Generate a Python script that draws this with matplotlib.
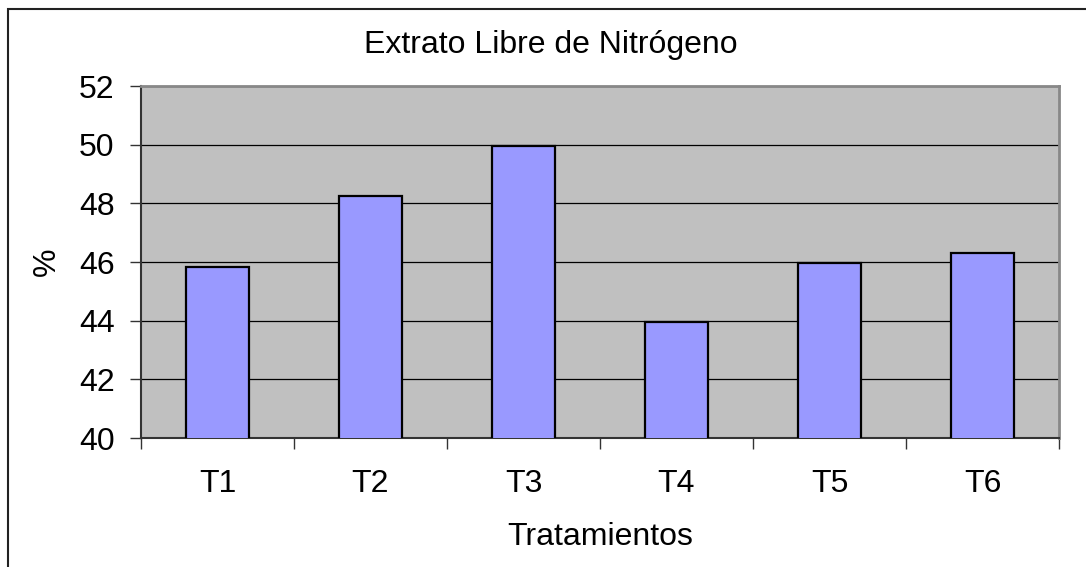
import matplotlib
matplotlib.use("Agg")
import matplotlib.pyplot as plt
from matplotlib.patches import Rectangle

plt.rcParams['font.family'] = ['Liberation Sans', 'DejaVu Sans']

tratamientos = ['T1', 'T2', 'T3', 'T4', 'T5', 'T6']
valores = [45.82, 48.25, 49.97, 43.94, 45.95, 46.31]
y_ticks = [40, 42, 44, 46, 48, 50, 52]

W, H = 1086, 567
FS = 23
fig = plt.figure(figsize=(W / 100, H / 100), dpi=100)
fig.patch.set_facecolor('white')

# outer chart border (cut off at right/bottom like the original)
fig.patches.append(Rectangle((8 / W, -0.1), 1.2, 1 - 9 / H + 0.1, transform=fig.transFigure,
                             fill=False, edgecolor='#222222', linewidth=1.5))

ax = fig.add_axes([141 / W, 1 - 438 / H, (1059 - 141) / W, (438 - 86) / H])
ax.set_facecolor('#C0C0C0')

x = list(range(len(tratamientos)))
ax.bar(x, valores, width=0.41, color='#9999FF', edgecolor='black', linewidth=1.6, zorder=3)

ax.set_xlim(-0.5, len(tratamientos) - 0.5)
ax.set_ylim(40, 52)
ax.set_yticks(y_ticks)
ax.set_yticklabels([str(v) for v in y_ticks], fontsize=FS)
ax.yaxis.grid(True, color='black', linewidth=0.9, zorder=1)

# labels at centers, tick marks at the boundaries
ax.set_xticks(x)
ax.set_xticklabels(tratamientos, fontsize=FS)
ax.tick_params(axis='x', which='major', length=0, pad=22)
ax.set_xticks([i - 0.5 for i in range(len(tratamientos) + 1)], minor=True)
ax.tick_params(axis='x', which='minor', length=8, width=1, color='#333333')
ax.tick_params(axis='y', length=8, width=1, color='#333333', pad=11)

for s in ['top', 'right']:
    ax.spines[s].set_color('#888888')
    ax.spines[s].set_linewidth(2)
for s in ['left', 'bottom']:
    ax.spines[s].set_color('#333333')
    ax.spines[s].set_linewidth(1.5)

fig.text(551 / W, 1 - 45 / H, 'Extrato Libre de Nitrógeno', ha='center', va='center', fontsize=FS)
fig.text(47 / W, 1 - 262 / H, '%', ha='center', va='center', rotation=90, fontsize=FS)
fig.text(600 / W, 1 - 537 / H, 'Tratamientos', ha='center', va='center', fontsize=FS)

fig.savefig('out.png', dpi=100)
